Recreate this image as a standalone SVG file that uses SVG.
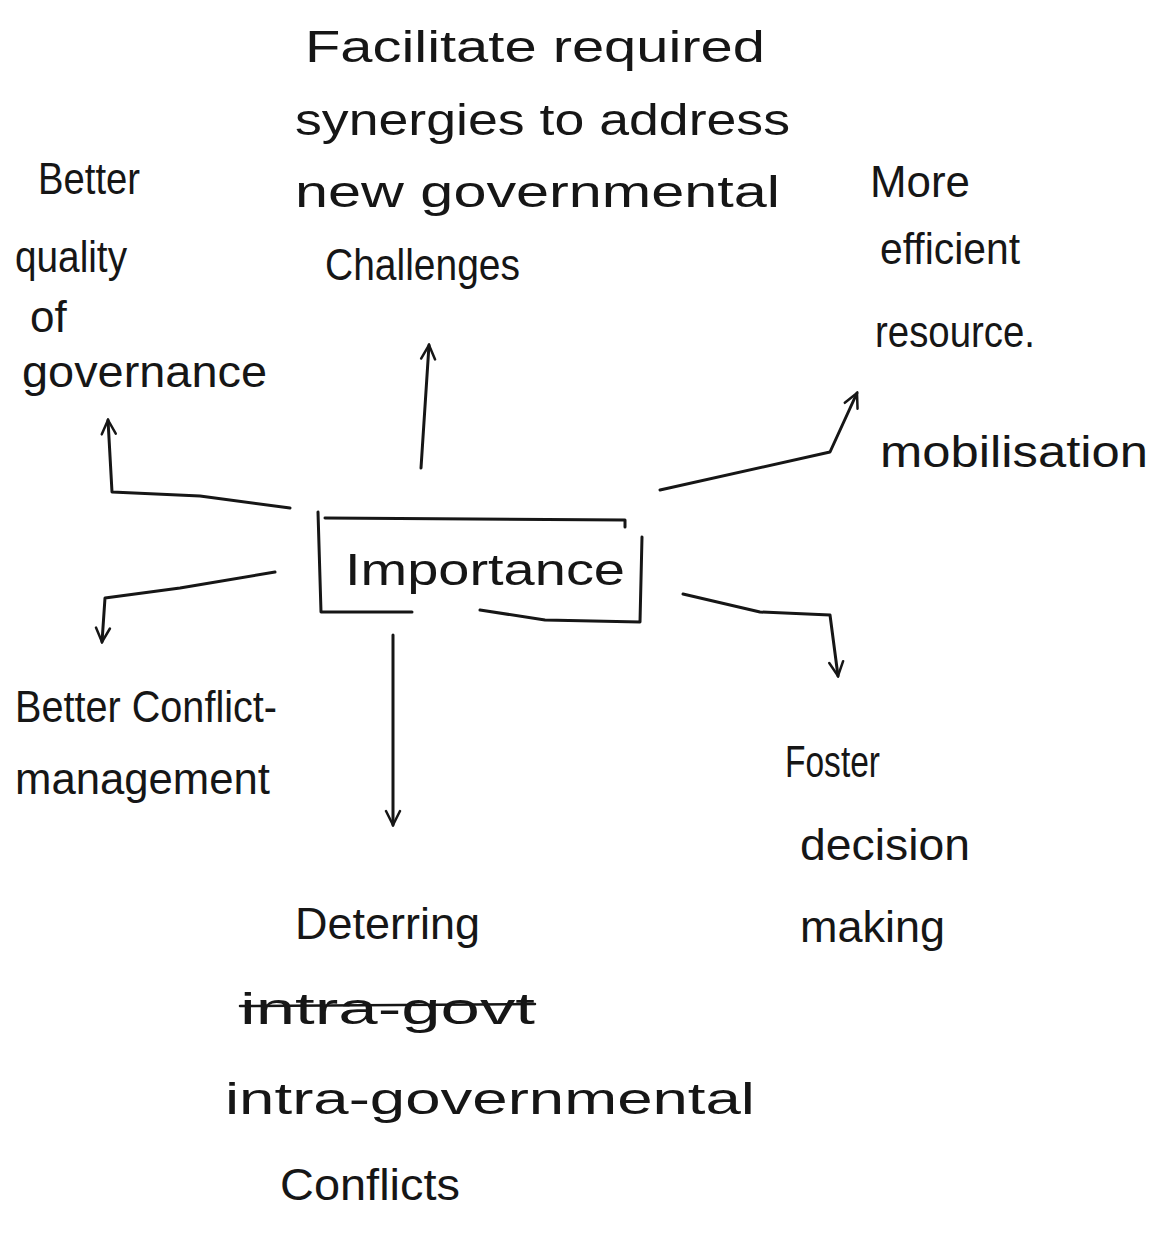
<svg xmlns="http://www.w3.org/2000/svg" width="1156" height="1242" viewBox="0 0 1156 1242">
<style>
text{font-family:"Liberation Sans",Arial,sans-serif;font-size:44px;fill:#161616}
.ln{fill:none;stroke:#161616;stroke-width:3;stroke-linecap:round;stroke-linejoin:round}
</style>
<defs>
<marker id="ah" viewBox="0 0 20 20" refX="18" refY="10" markerWidth="20" markerHeight="20" markerUnits="userSpaceOnUse" orient="auto">
<path d="M4,3 L18,10 L4,17" fill="none" stroke="#161616" stroke-width="2.5" stroke-linecap="round"/>
</marker>
</defs>
<rect width="1156" height="1242" fill="#ffffff"/>
<g id="connectors">
<path class="ln" d="M421,468 L429,345" marker-end="url(#ah)"/>
<path class="ln" d="M290,508 L200,496 L112,492 L108,420" marker-end="url(#ah)"/>
<path class="ln" d="M660,490 L830,452 L857,393" marker-end="url(#ah)"/>
<path class="ln" d="M275,572 L180,588 L105,598 L102,642" marker-end="url(#ah)"/>
<path class="ln" d="M393,635 L393,825" marker-end="url(#ah)"/>
<path class="ln" d="M683,594 L760,612 L830,615 L838,676" marker-end="url(#ah)"/>
</g>
<g id="node-importance">
<path class="ln" d="M318,512 L321,612 L412,612 M480,610 L545,620 L640,622 L642,537 M325,518 L625,520 L625,527"/>
<text x="345" y="585" textLength="280" lengthAdjust="spacingAndGlyphs">Importance</text>
</g>
<g id="node-synergies">
<text x="305" y="62" textLength="460" lengthAdjust="spacingAndGlyphs">Facilitate required</text>
<text x="295" y="135" textLength="495" lengthAdjust="spacingAndGlyphs">synergies to address</text>
<text x="295" y="207" textLength="485" lengthAdjust="spacingAndGlyphs">new governmental</text>
<text x="325" y="280" textLength="195" lengthAdjust="spacingAndGlyphs">Challenges</text>
</g>
<g id="node-quality">
<text x="38" y="194" textLength="102" lengthAdjust="spacingAndGlyphs">Better</text>
<text x="15" y="272" textLength="112" lengthAdjust="spacingAndGlyphs">quality</text>
<text x="30" y="332">of</text>
<text x="22" y="387" textLength="245" lengthAdjust="spacingAndGlyphs">governance</text>
</g>
<g id="node-resource">
<text x="870" y="197" textLength="100" lengthAdjust="spacingAndGlyphs">More</text>
<text x="880" y="264" textLength="140" lengthAdjust="spacingAndGlyphs">efficient</text>
<text x="875" y="347" textLength="160" lengthAdjust="spacingAndGlyphs">resource.</text>
<text x="880" y="467" textLength="268" lengthAdjust="spacingAndGlyphs">mobilisation</text>
</g>
<g id="node-conflict">
<text x="15" y="722" textLength="262" lengthAdjust="spacingAndGlyphs">Better Conflict-</text>
<text x="15" y="794" textLength="255" lengthAdjust="spacingAndGlyphs">management</text>
</g>
<g id="node-decision">
<text x="785" y="777" textLength="95" lengthAdjust="spacingAndGlyphs">Foster</text>
<text x="800" y="860" textLength="170" lengthAdjust="spacingAndGlyphs">decision</text>
<text x="800" y="942" textLength="145" lengthAdjust="spacingAndGlyphs">making</text>
</g>
<g id="node-deterring">
<text x="295" y="939" textLength="185" lengthAdjust="spacingAndGlyphs">Deterring</text>
<text x="240" y="1024" textLength="295" lengthAdjust="spacingAndGlyphs">intra-govt</text>
<path class="ln" d="M240,1006 L535,1004" style="stroke-width:2.5"/>
<text x="225" y="1114" textLength="530" lengthAdjust="spacingAndGlyphs">intra-governmental</text>
<text x="280" y="1200" textLength="180" lengthAdjust="spacingAndGlyphs">Conflicts</text>
</g>
</svg>
